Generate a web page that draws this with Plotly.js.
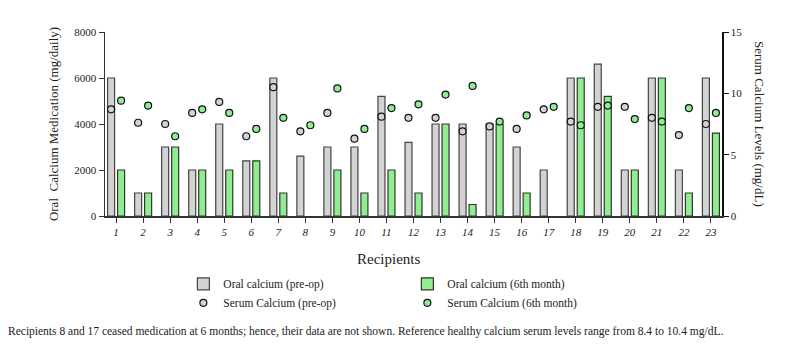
<!DOCTYPE html>
<html>
<head>
<meta charset="utf-8">
<script src="https://cdn.plot.ly/plotly-3.0.1.min.js"></script>
<style>html,body{margin:0;padding:0;background:#fff;}#chart{width:803px;height:350px;}</style>
</head>
<body>
<div id="chart"></div>
<script>
const recipients = ['1','2','3','4','5','6','7','8','9','10','11','12','13','14','15','16','17','18','19','20','21','22','23'];
const oralPreOp = [6000,1000,3000,2000,4000,2400,6000,2600,3000,3000,5200,3200,4000,4000,4000,3000,2000,6000,6600,2000,6000,2000,6000];
const oral6m = [2000,1000,3000,2000,2000,2400,1000,null,2000,1000,2000,1000,4000,500,4000,1000,null,6000,5200,2000,6000,1000,3600];
const serumPreOp = [8.7,7.6,7.5,8.4,9.3,6.5,10.5,6.9,8.4,6.3,8.1,8.0,8.0,6.9,7.3,7.1,8.7,7.7,8.9,8.9,8.0,6.6,7.5];
const serum6m = [9.4,9.0,6.5,8.7,8.4,7.1,8.0,7.4,10.4,7.1,8.8,9.1,9.9,10.6,7.7,8.2,8.9,7.4,9.0,7.9,7.7,8.8,8.4];

const serif = '"Liberation Serif", "Times New Roman", serif';
const grey = '#d3d3d3', green = '#90ee90';

const traces = [
  {type:'bar', name:'Oral calcium (pre-op)', x:recipients, y:oralPreOp, yaxis:'y',
   marker:{color:grey, line:{color:'#444', width:1.2}}},
  {type:'bar', name:'Oral calcium (6th month)', x:recipients, y:oral6m, yaxis:'y',
   marker:{color:green, line:{color:'#333', width:1.2}}},
  {type:'scatter', mode:'markers', name:'Serum Calcium (pre-op)', x:recipients, y:serumPreOp, yaxis:'y2',
   marker:{color:grey, size:7, line:{color:'#111', width:1.2}}},
  {type:'scatter', mode:'markers', name:'Serum Calcium (6th month)', x:recipients, y:serum6m, yaxis:'y2',
   marker:{color:green, size:7, line:{color:'#111', width:1.2}}}
];

const layout = {
  width:803, height:350,
  margin:{l:105, r:81, t:32, b:134},
  paper_bgcolor:'#fff', plot_bgcolor:'#fff',
  font:{family:serif, color:'#222', size:11},
  barmode:'group', bargap:0.26, bargroupgap:0.3,
  scattermode:'group', scattergap:0.26,
  showlegend:true,
  legend:{orientation:'h', x:0.127, xanchor:'left', y:-0.29, yanchor:'top',
          entrywidth:179, font:{family:serif, size:11.5, color:'#222'}, tracegroupgap:0},
  xaxis:{type:'category', range:[-0.41, 22.41], showline:true, linecolor:'#333', linewidth:1.5,
         ticks:'outside', ticklen:5, tickcolor:'#333', showgrid:false, zeroline:false,
         tickfont:{family:serif, size:11, style:'italic', color:'#222'}},
  yaxis:{range:[0,8000], dtick:2000, showline:true, linecolor:'#333', linewidth:1.5,
         ticks:'outside', ticklen:5, tickcolor:'#333', showgrid:false, zeroline:false,
         tickfont:{family:serif, size:11, color:'#222'},
         title:{text:'Oral  Calcium Medication (mg/daily)', font:{family:serif, size:13, color:'#222'}, standoff:12}},
  yaxis2:{range:[0,15], dtick:5, overlaying:'y', side:'right', showline:true, linecolor:'#111', linewidth:1.5,
          ticks:'outside', ticklen:5, tickcolor:'#111', showgrid:false, zeroline:false,
          tickfont:{family:serif, size:11, color:'#222'}},
  annotations:[
    {text:'Serum Calcium Levels (mg/dL)', xref:'paper', yref:'paper', x:1, y:0.5, xshift:38,
     xanchor:'center', yanchor:'middle', textangle:90, showarrow:false,
     font:{family:serif, size:13, color:'#222'}},
    {text:'Recipients', xref:'paper', yref:'paper', x:0.459, y:-0.235, xanchor:'center', yanchor:'middle',
     showarrow:false, font:{family:serif, size:15, color:'#222'}},
    {text:'Recipients 8 and 17 ceased medication at 6 months; hence, their data are not shown. Reference healthy calcium serum levels range from 8.4 to 10.4 mg/dL.',
     xref:'paper', yref:'paper', x:-0.16, y:-0.625, xanchor:'left', yanchor:'middle', showarrow:false,
     font:{family:serif, size:11.5, color:'#222'}}
  ]
};

Plotly.newPlot('chart', traces, layout, {displayModeBar:false, staticPlot:true});
</script>
</body>
</html>
